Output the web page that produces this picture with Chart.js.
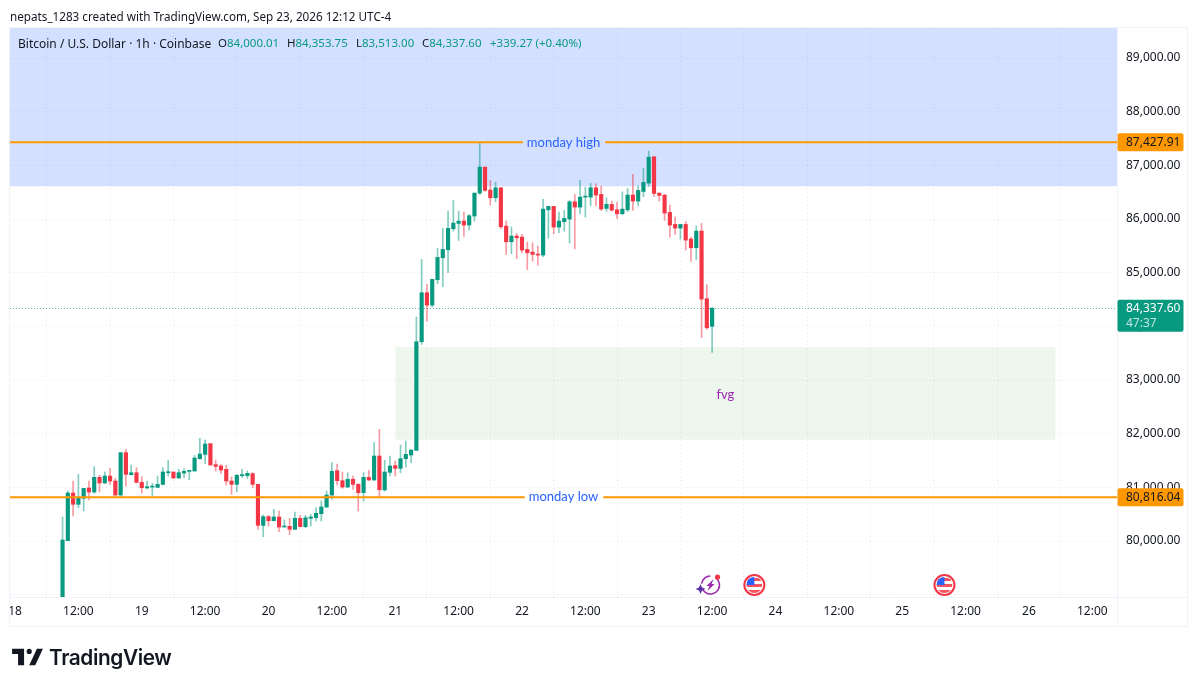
<!DOCTYPE html>
<html>
<head>
<meta charset="utf-8">
<title>BTCUSD 1h</title>
<script src="https://cdn.jsdelivr.net/npm/chart.js@4"></script>
<style>
  html, body { margin: 0; padding: 0; background: #fff; }
  body { width: 1199px; height: 687px; overflow: hidden; position: relative; font-family: "Noto Sans", sans-serif; }
  #myChart { position: absolute; left: 0; top: 0; }
  .credit { position: absolute; left: 10px; top: 8px; font-size: 11.7px; color: #131722; white-space: nowrap; }
  .legend { position: absolute; left: 18px; top: 35px; font-size: 11.5px; color: #131722; white-space: nowrap; }
  .legend b { font-weight: 400; color: #089981; }
  .legend span { position: absolute; top: 0; }
  .logo { position: absolute; left: 12px; top: 645px; height: 24px; display: flex; align-items: center; }
  .logo svg { width: 31px; height: 18px; display: block; }
  .logo div { margin-left: 6px; font-family: Inter, sans-serif; font-weight: 600; font-size: 20.8px; color: #131722; letter-spacing: -0.4px; }
</style>
</head>
<body>
<canvas id="myChart" width="1199" height="687"></canvas>
<div class="credit">nepats_1283 created with TradingView.com, Sep 23, 2026 12:12 UTC-4</div>
<div class="legend">
  <span style="left:0;font-size:12px">Bitcoin / U.S. Dollar · 1h · Coinbase</span>
  <span style="left:200px">O<b>84,000.01</b></span>
  <span style="left:269px">H<b>84,353.75</b></span>
  <span style="left:338px">L<b>83,513.00</b></span>
  <span style="left:404px">C<b>84,337.60</b></span>
  <span style="left:472px"><b>+339.27 (+0.40%)</b></span>
</div>
<div class="logo">
  <svg viewBox="0 0 36 21"><path fill="#131722" d="M14 1H0v6h7v13h7V1Z"/><circle fill="#131722" cx="20" cy="4" r="3"/><path fill="#131722" d="M29 1h7l-9 19h-7l9-19Z"/></svg>
  <div>TradingView</div>
</div>
<script>
const firstHour = 9; // hours after Sep 18 00:00

const opens = [78700,80007,80895,80684,80795,80988,80913,81187,81081,81211,81118,80857,81646,81236,81273,81093,80988,81006,81000,81056,81273,81286,81174,81267,81298,81304,81534,81615,81814,81422,81398,81336,81118,81056,81218,81218,81255,81056,80292,80454,80379,80448,80261,80274,80218,80423,80267,80423,80435,80510,80634,80857,81311,81124,81006,81149,81056,80901,81187,81137,81584,80951,81280,81404,81354,81534,81603,81689,83713,84626,84396,84869,85278,85427,85819,85918,85961,85887,86055,86483,86967,86539,86396,86582,85868,85576,85682,85663,85433,85384,85346,85328,86172,86235,85850,85949,85999,86321,86222,86408,86408,86582,86458,86197,86272,86172,86098,86172,86446,86334,86514,86669,87160,86483,86446,86123,85899,85831,85899,85626,85464,85775,84514,84000.01];
const highs = [80448,80932,81118,81242,80982,81118,81385,81224,81286,81354,81168,81646,81708,81416,81367,81199,81118,81075,81211,81367,81497,81286,81336,81348,81317,81596,81913,81882,81814,81509,81429,81410,81193,81242,81336,81304,81273,81056,80485,80479,80590,80559,80392,80423,80541,80479,80479,80497,80621,80746,80932,81460,81435,81286,81273,81211,81070,81273,81317,81832,82081,81503,81584,81491,81789,81863,81696,84173,85247,84781,84875,85452,85825,86148,86346,86148,86129,86085,86483,87427.91,86967,86719,86688,86582,85961,85850,85732,85713,85570,85558,85496,86365,86235,86235,86129,86160,86346,86458,86719,86595,86663,86657,86613,86396,86334,86309,86508,86570,86831,86613,86942,87265,87160,86483,86458,86259,86036,85905,85949,85663,85874,85918,84775,84353.75];
const lows = [78650,80007,80466,80621,80559,80764,80888,80913,81075,81056,80839,80808,81025,81230,81081,80895,80975,80845,80994,81044,81211,81168,81168,81180,81143,81304,81522,81441,81416,81304,81255,81044,80870,80919,81180,81168,80994,80218,80081,80280,80373,80174,80261,80118,80218,80261,80249,80280,80373,80373,80621,80777,81044,80982,80994,80963,80559,80746,81131,81131,80808,80932,81211,81211,81273,81379,81460,81689,83664,84098,84365,84794,84738,84999,85775,85601,85676,85794,85961,86458,86520,86259,86321,85818,85340,85353,85260,85371,85055,85216,85142,85297,85638,85725,85744,85775,85551,85446,86098,86036,86247,86247,86160,86141,86148,86005,86079,86135,86160,86247,86415,86607,86415,86334,85974,85663,85713,85626,85421,85216,85247,83788,83943,83513];
const closes = [80019,80895,80684,80820,80982,80913,81187,81081,81211,81118,80857,81646,81242,81273,81093,80994,81013,81019,81056,81286,81286,81174,81273,81298,81317,81547,81621,81808,81416,81391,81323,81118,81056,81224,81230,81261,81056,80292,80454,80379,80448,80261,80274,80218,80423,80267,80435,80448,80516,80634,80857,81298,81124,81006,81149,81056,80901,81187,81137,81584,80957,81286,81398,81354,81534,81615,81696,83713,84626,84396,84875,85284,85433,85825,85924,85961,85887,86061,86483,86967,86533,86396,86582,85856,85576,85682,85651,85421,85371,85340,85328,86185,86235,85850,85961,86011,86321,86222,86408,86421,86582,86446,86185,86272,86166,86098,86185,86446,86334,86533,86682,87154,86477,86439,86110,85887,85831,85899,85607,85464,85775,84508,83974,84337.60];

const xTickLabels = ['18','12:00','19','12:00','20','12:00','21','12:00','22','12:00','23','12:00','24','12:00','25','12:00','26','12:00'];
const yTickValues = [79000,80000,81000,82000,83000,84000,85000,86000,87000,88000,89000];

const mondayHigh = 87427.91;
const mondayLow = 80816.04;
const lastPrice = 84337.60;
const yMin = 78957, yMax = 89559;
const blueZone = [86610, yMax];
const fvgZone = [81882, 83615];
const fvgHours = [72, 197];
const flagHours = [140, 176];
const boltHour = 131.7;

const up = '#089981', down = '#f23645';
const candleUp = closes.map((c, i) => c >= opens[i]);

const price = v => v.toLocaleString('en-US', { minimumFractionDigits: 2, maximumFractionDigits: 2 });

function boxLabel(ctx, y, h, fill) {
  ctx.fillStyle = fill;
  ctx.beginPath();
  ctx.roundRect(1117.5, y - h / 2, 66, h, 2);
  ctx.fill();
}

function hLine(ctx, area, y, text) {
  ctx.font = '13px Lato';
  let w = ctx.measureText(text).width;
  let mid = (area.left + area.right) / 2;
  ctx.strokeStyle = '#ff9800';
  ctx.lineWidth = 2;
  ctx.beginPath();
  ctx.moveTo(area.left, y); ctx.lineTo(mid - w / 2 - 4, y);
  ctx.moveTo(mid + w / 2 + 5, y); ctx.lineTo(area.right, y);
  ctx.stroke();
  ctx.fillStyle = '#2962ff';
  ctx.textAlign = 'center';
  ctx.textBaseline = 'middle';
  ctx.fillText(text, mid, y);
}

function drawFlag(ctx, x, y) {
  ctx.save();
  ctx.beginPath(); ctx.arc(x, y, 10, 0, Math.PI * 2);
  ctx.fillStyle = '#fff'; ctx.fill();
  ctx.lineWidth = 2; ctx.strokeStyle = '#f23645'; ctx.stroke();
  ctx.beginPath(); ctx.arc(x, y, 8, 0, Math.PI * 2); ctx.clip();
  ctx.fillStyle = '#f7525f';
  ctx.fillRect(x - 8, y - 7, 16, 3);
  ctx.fillRect(x - 8, y - 1, 16, 3);
  ctx.fillRect(x - 8, y + 5, 16, 3);
  ctx.fillStyle = '#2962ff';
  ctx.fillRect(x - 8, y - 8, 8, 8);
  ctx.restore();
}

function drawBolt(ctx, x, y) {
  ctx.save();
  ctx.strokeStyle = '#9c27b0';
  ctx.lineWidth = 1.6;
  ctx.beginPath(); ctx.arc(x, y, 9, -1.0, 2.6); ctx.stroke();
  ctx.beginPath(); ctx.arc(x, y, 9, 3.3, 4.7); ctx.stroke();
  ctx.fillStyle = '#9c27b0';
  ctx.beginPath();
  ctx.moveTo(x + 3, y - 6); ctx.lineTo(x - 4, y + 1); ctx.lineTo(x - 1, y + 1);
  ctx.lineTo(x - 3, y + 6); ctx.lineTo(x + 4, y - 1); ctx.lineTo(x + 1, y - 1);
  ctx.closePath(); ctx.fill();
  // star
  ctx.fillStyle = '#5b2ea6';
  ctx.beginPath();
  ctx.moveTo(x - 10, y - 1); ctx.lineTo(x - 8.5, y + 2.5); ctx.lineTo(x - 5, y + 4);
  ctx.lineTo(x - 8.5, y + 5.5); ctx.lineTo(x - 10, y + 9); ctx.lineTo(x - 11.5, y + 5.5);
  ctx.lineTo(x - 15, y + 4); ctx.lineTo(x - 11.5, y + 2.5);
  ctx.closePath(); ctx.fill();
  ctx.fillStyle = '#f23645';
  ctx.beginPath(); ctx.arc(x + 7, y - 8, 2.6, 0, Math.PI * 2); ctx.fill();
  ctx.restore();
}

const zones = {
  id: 'zones',
  beforeDatasetsDraw(chart) {
    const { ctx, chartArea: a, scales: { x, y } } = chart;
    ctx.save();
    ctx.fillStyle = 'rgba(41,98,255,0.2)';
    ctx.fillRect(a.left, y.getPixelForValue(blueZone[1]), a.right - a.left, y.getPixelForValue(blueZone[0]) - y.getPixelForValue(blueZone[1]));
    ctx.fillStyle = 'rgba(76,175,80,0.1)';
    ctx.fillRect(x.getPixelForValue(fvgHours[0]), y.getPixelForValue(fvgZone[1]), x.getPixelForValue(fvgHours[1]) - x.getPixelForValue(fvgHours[0]), y.getPixelForValue(fvgZone[0]) - y.getPixelForValue(fvgZone[1]));
    // last price line
    ctx.strokeStyle = 'rgba(8,153,129,0.7)';
    ctx.lineWidth = 1;
    ctx.setLineDash([1, 2]);
    ctx.beginPath();
    ctx.moveTo(a.left, Math.round(y.getPixelForValue(lastPrice)) + 0.5);
    ctx.lineTo(a.right, Math.round(y.getPixelForValue(lastPrice)) + 0.5);
    ctx.stroke();
    ctx.restore();
  }
};

const overlays = {
  id: 'overlays',
  afterDraw(chart) {
    const { ctx, chartArea: a, scales: { x, y } } = chart;
    ctx.save();
    hLine(ctx, a, y.getPixelForValue(mondayHigh), 'monday high');
    hLine(ctx, a, y.getPixelForValue(mondayLow), 'monday low');

    ctx.fillStyle = '#9c27b0';
    ctx.font = '13px Lato';
    ctx.fillText('fvg', x.getPixelForValue(134.5), y.getPixelForValue(82720));

    flagHours.forEach(h => drawFlag(ctx, x.getPixelForValue(h), a.bottom - 12));
    drawBolt(ctx, x.getPixelForValue(boltHour), a.bottom - 12);

    // frame
    ctx.strokeStyle = '#f0f3fa';
    ctx.lineWidth = 1;
    ctx.strokeRect(a.left - 0.5, a.top - 0.5, 1188 - a.left, 627 - a.top);
    ctx.beginPath();
    ctx.moveTo(a.right + 0.5, a.top); ctx.lineTo(a.right + 0.5, 627);
    ctx.moveTo(a.left, a.bottom + 0.5); ctx.lineTo(1188, a.bottom + 0.5);
    ctx.stroke();

    // price labels
    ctx.font = '12px "Noto Sans"';
    ctx.textAlign = 'left';
    ctx.textBaseline = 'middle';
    [mondayHigh, mondayLow].forEach(v => {
      let py = y.getPixelForValue(v);
      boxLabel(ctx, py, 18, '#ff9800');
      ctx.fillStyle = '#131722';
      ctx.fillText(price(v), 1126, py);
    });
    let ly = y.getPixelForValue(lastPrice);
    boxLabel(ctx, ly + 7.5, 32, up);
    ctx.fillStyle = '#fff';
    ctx.fillText(price(lastPrice), 1126, ly);
    ctx.fillStyle = 'rgba(255,255,255,0.75)';
    ctx.fillText('47:37', 1126, ly + 15);
    ctx.restore();
  }
};

const ctx = document.getElementById('myChart');
const myChart = new Chart(ctx, {
  type: 'bar',
  data: {
    datasets: [
      {
        label: 'Wicks',
        data: opens.map((o, i) => ({ x: firstHour + i, y: [lows[i], highs[i]] })),
        backgroundColor: candleUp.map(u => u ? 'rgba(8,153,129,0.5)' : 'rgba(242,54,69,0.5)'),
        barThickness: 1,
        grouped: false,
        order: 2
      },
      {
        label: 'Candles',
        data: opens.map((o, i) => ({ x: firstHour + i, y: [o, closes[i]] })),
        backgroundColor: candleUp.map(u => u ? up : down),
        barThickness: 3.5,
        grouped: false,
        minBarLength: 1,
        order: 1
      }
    ]
  },
  options: {
    responsive: false,
    animation: false,
    events: [],
    devicePixelRatio: 1,
    layout: { padding: { left: 10, right: 11, top: 28, bottom: 60 } },
    plugins: { legend: { display: false }, tooltip: { enabled: false } },
    scales: {
      x: {
        type: 'linear',
        min: -0.95,
        max: 208.67,
        offset: false,
        afterFit(s) { s.height = 30; },
        afterBuildTicks(s) { s.ticks = xTickLabels.map((_, i) => ({ value: i * 12 })); },
        grid: { color: '#e6e9f0', drawTicks: false },
        border: { display: false, dash: [1, 3] },
        ticks: {
          autoSkip: false,
          maxRotation: 0,
          padding: 7,
          color: '#131722',
          font: { family: 'Noto Sans', size: 12 },
          callback: (v, i) => xTickLabels[i]
        }
      },
      y: {
        position: 'right',
        min: yMin,
        max: yMax,
        afterFit(s) { s.width = 71; },
        afterBuildTicks(s) { s.ticks = yTickValues.map(v => ({ value: v })); },
        grid: { color: '#e6e9f0', drawTicks: false },
        border: { display: false, dash: [1, 3] },
        ticks: {
          padding: 9,
          color: '#131722',
          font: { family: 'Noto Sans', size: 12 },
          callback: v => v === yTickValues[0] ? '' : price(v)
        }
      }
    }
  },
  plugins: [zones, overlays]
});
</script>
</body>
</html>
